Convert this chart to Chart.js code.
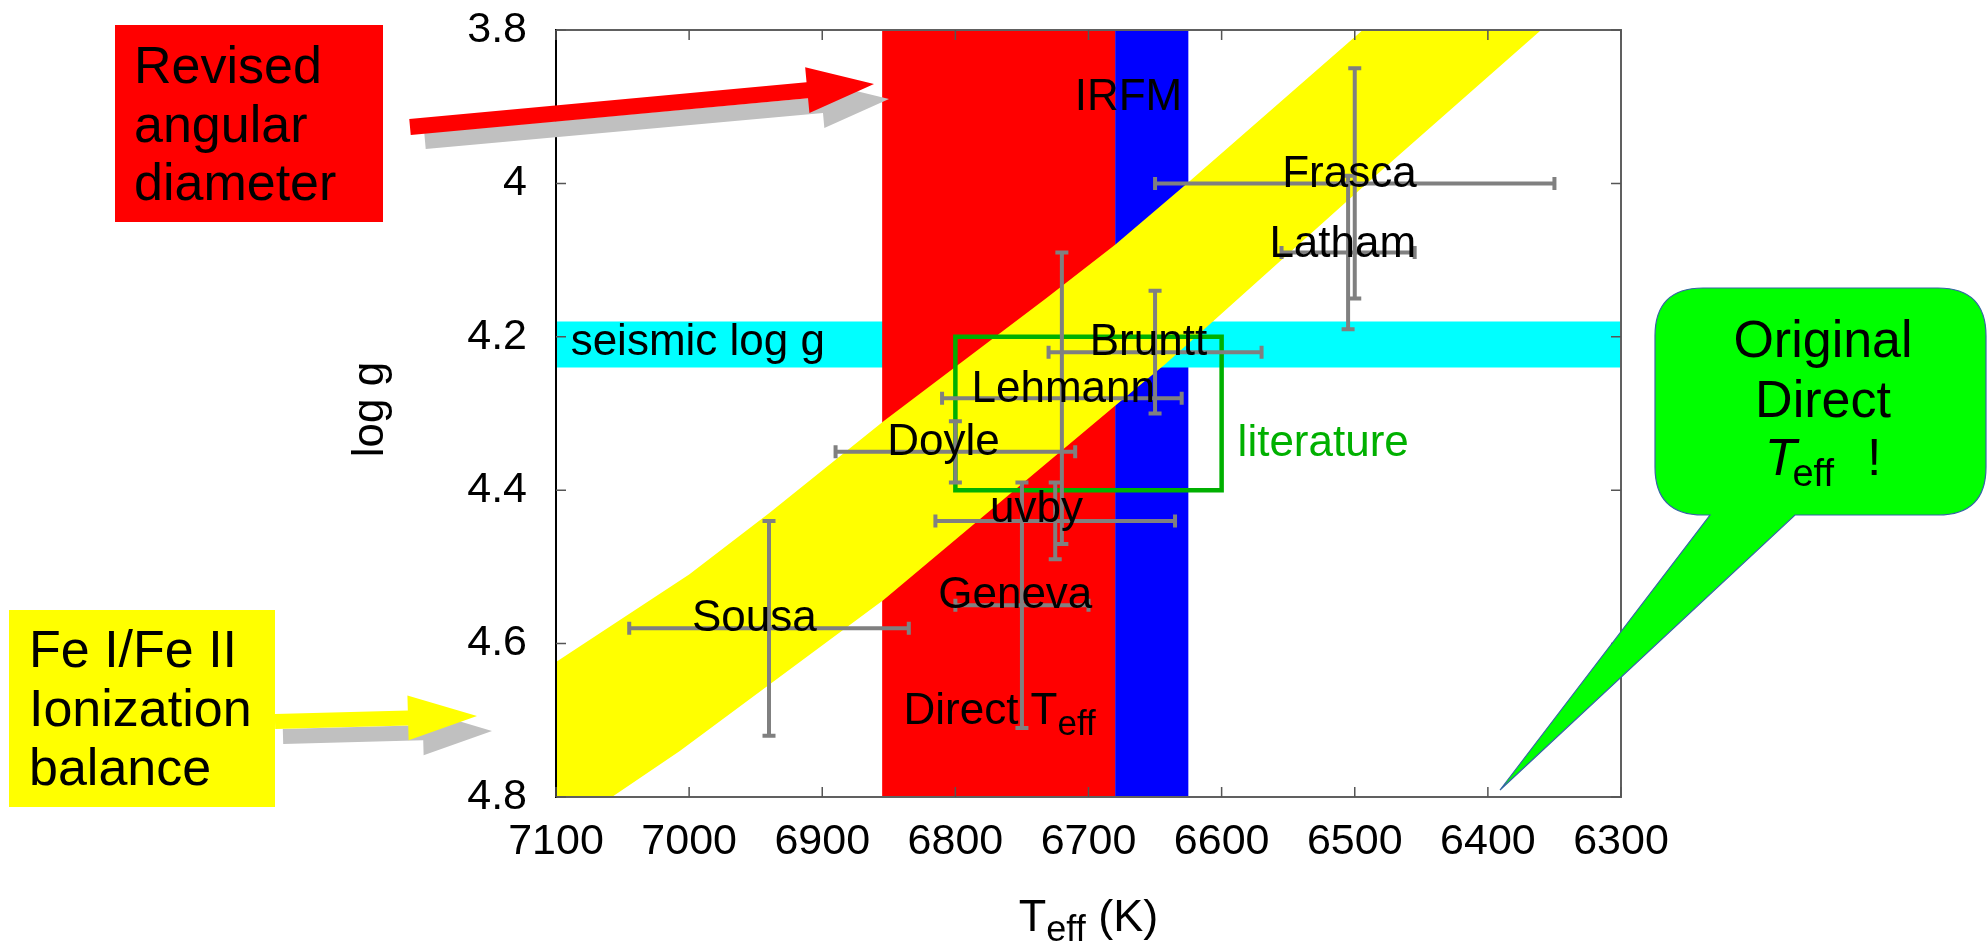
<!DOCTYPE html>
<html>
<head>
<meta charset="utf-8">
<title>log g vs Teff</title>
<script src="https://cdn.jsdelivr.net/npm/chart.js@4.4.1/dist/chart.umd.min.js"></script>
<style>
  html, body { margin: 0; padding: 0; background: #fff; }
  #wrap { width: 1988px; height: 946px; }
</style>
</head>
<body>
<div id="wrap"><canvas id="teffChart" width="1988" height="946"></canvas></div>
<script>
// axes
const teffTicks = [7100, 7000, 6900, 6800, 6700, 6600, 6500, 6400, 6300];
const teffTickLabels = ["7100", "7000", "6900", "6800", "6700", "6600", "6500", "6400", "6300"];
const loggTicks = [3.8, 4.0, 4.2, 4.4, 4.6, 4.8];
const loggTickLabels = ["3.8", "4", "4.2", "4.4", "4.6", "4.8"];

// published Teff / log g determinations with their errors
const sources = ["Frasca", "Latham", "Bruntt", "Lehmann", "Doyle", "uvby", "Geneva", "Sousa"];
const sourceTeff = [6500, 6505, 6650, 6720, 6800, 6725, 6750, 6940];
const sourceTeffErr = [150, 50, 80, 90, 90, 90, 50, 105];
const sourceLogg = [4.00, 4.09, 4.22, 4.28, 4.35, 4.44, 4.55, 4.58];
const sourceLoggErr = [0.15, 0.10, 0.08, 0.19, 0.04, 0.05, 0.16, 0.14];
// where each name is written (centre, baseline)
const sourceLabelTeff = [6504, 6509, 6655, 6719, 6809, 6739, 6755, 6951];
const sourceLabelLogg = [4.005, 4.096, 4.224, 4.285, 4.354, 4.442, 4.554, 4.584];

// constraint bands
const directTeff = [6855, 6680];
const irfmTeff = [6680, 6625];
const seismicLogg = [4.18, 4.24];
const literatureTeff = [6800, 6600];
const literatureLogg = [4.2, 4.4];
// Fe I / Fe II ionization balance strip
const ionUpperTeff = [6494, 6626, 6680, 6732, 6854, 6940, 7000, 7100];
const ionUpperLogg = [3.80, 4.00, 4.08, 4.15, 4.31, 4.43, 4.51, 4.624];
const ionLowerTeff = [7100, 7058, 7007, 6854, 6680, 6642, 6491, 6360];
const ionLowerLogg = [4.80, 4.80, 4.74, 4.543, 4.29, 4.235, 4.00, 3.80];

// band captions: text, Teff, log g, alignment, colour
const bandNotes = [
  ["IRFM", 6670, 3.904, "center", "#000"],
  ["seismic log g", 7089, 4.224, "left", "#000"],
  ["literature", 6588, 4.356, "left", "#00b000"],
];
const directNoteTeff = 6839;
const directNoteLogg = 4.705;

const FONT = '"Liberation Sans", Arial, sans-serif';
Chart.defaults.font.family = FONT;
Chart.defaults.color = "#000";

function box(t0, t1, g0, g1) {
  return [
    { x: t0, y: g0 }, { x: t1, y: g0 }, { x: t1, y: g1 }, { x: t0, y: g1 }, { x: t0, y: g0 },
  ];
}

function band(points, color, order) {
  return {
    data: points,
    order: order,
    fill: "shape",
    backgroundColor: color,
    borderColor: "rgba(0,0,0,0)",
    borderWidth: 0,
    pointRadius: 0,
    tension: 0,
  };
}

const loggMin = loggTicks[0];
const loggMax = loggTicks[loggTicks.length - 1];
const teffMin = teffTicks[teffTicks.length - 1];
const teffMax = teffTicks[0];

const ionPoints = ionUpperTeff.map((t, i) => ({ x: t, y: ionUpperLogg[i] }))
  .concat(ionLowerTeff.map((t, i) => ({ x: t, y: ionLowerLogg[i] })));

function drawArrow(ctx, x0, y0, x1, y1, shaft, headW, headL, color) {
  const len = Math.hypot(x1 - x0, y1 - y0);
  const ux = (x1 - x0) / len, uy = (y1 - y0) / len;
  const nx = -uy, ny = ux;
  const bx = x1 - ux * headL, by = y1 - uy * headL;
  ctx.beginPath();
  ctx.moveTo(x0 + nx * shaft / 2, y0 + ny * shaft / 2);
  ctx.lineTo(bx + nx * shaft / 2, by + ny * shaft / 2);
  ctx.lineTo(bx + nx * headW / 2, by + ny * headW / 2);
  ctx.lineTo(x1, y1);
  ctx.lineTo(bx - nx * headW / 2, by - ny * headW / 2);
  ctx.lineTo(bx - nx * shaft / 2, by - ny * shaft / 2);
  ctx.lineTo(x0 - nx * shaft / 2, y0 - ny * shaft / 2);
  ctx.closePath();
  ctx.fillStyle = color;
  ctx.fill();
}

// frame, inward ticks, error bars and labels
const overlay = {
  id: "overlay",
  afterDatasetsDraw(chart) {
    const { ctx, chartArea: a, scales: { x, y } } = chart;
    ctx.save();

    // error bars
    ctx.strokeStyle = "#808080";
    ctx.lineWidth = 4;
    const cap = 6.5;
    sources.forEach((name, i) => {
      const px = x.getPixelForValue(sourceTeff[i]);
      const py = y.getPixelForValue(sourceLogg[i]);
      const xl = x.getPixelForValue(sourceTeff[i] + sourceTeffErr[i]);
      const xr = x.getPixelForValue(sourceTeff[i] - sourceTeffErr[i]);
      const yt = y.getPixelForValue(sourceLogg[i] - sourceLoggErr[i]);
      const yb = y.getPixelForValue(sourceLogg[i] + sourceLoggErr[i]);
      ctx.beginPath();
      ctx.moveTo(xl, py); ctx.lineTo(xr, py);
      ctx.moveTo(xl, py - cap); ctx.lineTo(xl, py + cap);
      ctx.moveTo(xr, py - cap); ctx.lineTo(xr, py + cap);
      ctx.moveTo(px, yt); ctx.lineTo(px, yb);
      ctx.moveTo(px - cap, yt); ctx.lineTo(px + cap, yt);
      ctx.moveTo(px - cap, yb); ctx.lineTo(px + cap, yb);
      ctx.stroke();
    });

    // source names
    ctx.font = "44px " + FONT;
    ctx.textBaseline = "alphabetic";
    ctx.fillStyle = "#000";
    ctx.textAlign = "center";
    sources.forEach((name, i) => {
      ctx.fillText(name, x.getPixelForValue(sourceLabelTeff[i]), y.getPixelForValue(sourceLabelLogg[i]));
    });

    bandNotes.forEach(([text, t, g, align, color]) => {
      ctx.textAlign = align;
      ctx.fillStyle = color;
      ctx.fillText(text, x.getPixelForValue(t), y.getPixelForValue(g));
    });

    // "Direct T_eff"
    ctx.textAlign = "left";
    ctx.fillStyle = "#000";
    let dx = x.getPixelForValue(directNoteTeff);
    const dy = y.getPixelForValue(directNoteLogg);
    ctx.fillText("Direct T", dx, dy);
    dx += ctx.measureText("Direct T").width;
    ctx.font = "35px " + FONT;
    ctx.fillText("eff", dx, dy + 11);

    // frame
    ctx.lineWidth = 2;
    ctx.strokeStyle = "#606060";
    ctx.beginPath();
    ctx.moveTo(a.left, a.top); ctx.lineTo(a.right, a.top);
    ctx.lineTo(a.right, a.bottom); ctx.lineTo(a.left, a.bottom);
    ctx.stroke();
    ctx.strokeStyle = "#000";
    ctx.beginPath();
    ctx.moveTo(a.left, a.top - 1); ctx.lineTo(a.left, a.bottom + 1);
    ctx.stroke();

    // inward tick marks on all four sides
    ctx.lineWidth = 1.5;
    ctx.strokeStyle = "#555";
    ctx.beginPath();
    teffTicks.forEach((t) => {
      const px = x.getPixelForValue(t);
      ctx.moveTo(px, a.bottom); ctx.lineTo(px, a.bottom - 10);
      ctx.moveTo(px, a.top); ctx.lineTo(px, a.top + 10);
    });
    loggTicks.forEach((g) => {
      const py = y.getPixelForValue(g);
      ctx.moveTo(a.left, py); ctx.lineTo(a.left + 10, py);
      ctx.moveTo(a.right, py); ctx.lineTo(a.right - 10, py);
    });
    ctx.stroke();

    // axis titles
    ctx.fillStyle = "#000";
    ctx.font = "45px " + FONT;
    const partT = ctx.measureText("T").width;
    const partK = ctx.measureText(" (K)").width;
    ctx.font = "36px " + FONT;
    const partEff = ctx.measureText("eff").width;
    let tx = (a.left + a.right) / 2 - (partT + partEff + partK) / 2;
    const ty = a.bottom + 134;
    ctx.textAlign = "left";
    ctx.font = "45px " + FONT;
    ctx.fillText("T", tx, ty);
    ctx.font = "36px " + FONT;
    ctx.fillText("eff", tx + partT, ty + 10);
    ctx.font = "45px " + FONT;
    ctx.fillText(" (K)", tx + partT + partEff, ty);

    ctx.save();
    ctx.translate(a.left - 173, (a.top + a.bottom) / 2 - 4);
    ctx.rotate(-Math.PI / 2);
    ctx.textAlign = "center";
    ctx.font = "44px " + FONT;
    ctx.fillText("log g", 0, 0);
    ctx.restore();

    ctx.restore();
  },

  // call-out boxes, arrows and speech bubble round the plot
  afterDraw(chart) {
    const { ctx } = chart;
    ctx.save();
    ctx.font = "52px " + FONT;
    ctx.textAlign = "left";
    ctx.textBaseline = "alphabetic";

    ctx.fillStyle = "#ff0000";
    ctx.fillRect(115, 25, 268, 197);
    ctx.fillStyle = "#000";
    ctx.fillText("Revised", 134, 83);
    ctx.fillText("angular", 134, 141.5);
    ctx.fillText("diameter", 134, 200);

    ctx.fillStyle = "#ffff00";
    ctx.fillRect(9, 610, 266, 197);
    ctx.fillStyle = "#000";
    ctx.fillText("Fe I/Fe II", 29, 667);
    ctx.fillText("Ionization", 29, 726);
    ctx.fillText("balance", 29, 785);

    drawArrow(ctx, 425, 141, 889, 99, 16, 46, 67, "#c0c0c0");
    drawArrow(ctx, 410, 127, 874, 84, 16, 46, 67, "#ff0000");
    drawArrow(ctx, 283, 736.5, 492, 731, 15, 45, 69, "#c0c0c0");
    drawArrow(ctx, 275, 721.5, 477, 716, 15, 45, 69, "#ffff00");

    // speech bubble
    const l = 1655, t = 288, r = 1986, b = 515, rad = 48;
    ctx.beginPath();
    ctx.moveTo(l + rad, t);
    ctx.lineTo(r - rad, t);
    ctx.quadraticCurveTo(r, t, r, t + rad);
    ctx.lineTo(r, b - rad);
    ctx.quadraticCurveTo(r, b, r - rad, b);
    ctx.lineTo(1795, b);
    ctx.lineTo(1500, 790);
    ctx.lineTo(1710, b);
    ctx.lineTo(l + rad, b);
    ctx.quadraticCurveTo(l, b, l, b - rad);
    ctx.lineTo(l, t + rad);
    ctx.quadraticCurveTo(l, t, l + rad, t);
    ctx.closePath();
    ctx.fillStyle = "#00ff00";
    ctx.fill();
    ctx.strokeStyle = "#3465a4";
    ctx.lineWidth = 1.2;
    ctx.stroke();

    const cx = 1823;
    ctx.fillStyle = "#000";
    ctx.textAlign = "center";
    ctx.font = "52px " + FONT;
    ctx.fillText("Original", cx, 357);
    ctx.fillText("Direct", cx, 417);
    ctx.textAlign = "left";
    ctx.font = "italic 52px " + FONT;
    const wT = ctx.measureText("T").width;
    ctx.font = "52px " + FONT;
    const wBang = ctx.measureText("  !").width;
    ctx.font = "38px " + FONT;
    const wEff = ctx.measureText("eff").width;
    let lx = cx - (wT + wEff + wBang) / 2;
    ctx.font = "italic 52px " + FONT;
    ctx.fillText("T", lx, 475);
    ctx.font = "38px " + FONT;
    ctx.fillText("eff", lx + wT - 4, 486);
    ctx.font = "52px " + FONT;
    ctx.fillText("  !", lx + wT + wEff, 475);

    ctx.restore();
  },
};

new Chart(document.getElementById("teffChart"), {
  type: "line",
  data: {
    datasets: [
      {
        data: box(literatureTeff[0], literatureTeff[1], literatureLogg[0], literatureLogg[1]),
        order: 1,
        fill: false,
        borderColor: "#00b000",
        borderWidth: 4.5,
        borderCapStyle: "square",
        borderJoinStyle: "miter",
        pointRadius: 0,
        tension: 0,
      },
      band(ionPoints, "#ffff00", 2),
      band(box(directTeff[0], directTeff[1], loggMin, loggMax), "#ff0000", 3),
      band(box(teffMax, teffMin, seismicLogg[0], seismicLogg[1]), "#00ffff", 4),
      band(box(irfmTeff[0], irfmTeff[1], loggMin, loggMax), "#0000ff", 5),
    ],
  },
  options: {
    responsive: false,
    animation: false,
    events: [],
    layout: { padding: { top: 30, right: 367, left: 0, bottom: 0 } },
    plugins: { legend: { display: false }, tooltip: { enabled: false } },
    scales: {
      x: {
        type: "linear",
        reverse: true,
        min: teffMin,
        max: teffMax,
        grid: { display: false, drawTicks: false },
        border: { display: false },
        afterBuildTicks: (scale) => { scale.ticks = teffTicks.map((v) => ({ value: v })); },
        afterFit: (scale) => {
          scale.height = 149;
          scale.paddingLeft = 0;
          scale.paddingRight = 0;
        },
        ticks: {
          padding: 19,
          autoSkip: false,
          maxRotation: 0,
          font: { size: 43 },
          color: "#000",
          callback: (value, index) => teffTickLabels[index],
        },
      },
      y: {
        type: "linear",
        reverse: true,
        min: loggMin,
        max: loggMax,
        grid: { display: false, drawTicks: false },
        border: { display: false },
        afterBuildTicks: (scale) => { scale.ticks = loggTicks.map((v) => ({ value: v })); },
        afterFit: (scale) => {
          scale.width = 556;
          scale.paddingTop = 0;
          scale.paddingBottom = 0;
        },
        ticks: {
          padding: 29,
          autoSkip: false,
          font: { size: 43 },
          color: "#000",
          callback: (value, index) => loggTickLabels[index],
        },
      },
    },
  },
  plugins: [overlay],
});
</script>
</body>
</html>
